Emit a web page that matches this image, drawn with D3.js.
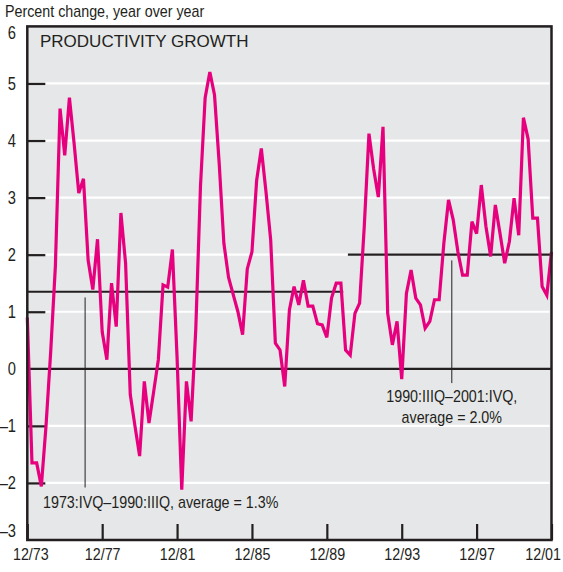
<!DOCTYPE html>
<html>
<head>
<meta charset="utf-8">
<script src="https://cdn.jsdelivr.net/npm/d3@7"></script>
<style>
body { margin: 0; background: #fff; }
text { font-family: "Liberation Sans", Arial, sans-serif; }
</style>
</head>
<body>
<div class="container"></div>
<script>
var	WIDTH = 563,
	HEIGHT = 572,
	LEFT = 27.3,
	RIGHT = 551.5,
	TOP = 26.4,
	BOTTOM = 540,
	INK = '#231f20',
	SQUEEZE = 0.84;

// productivity growth, percent change year over year, quarterly from 1973:IVQ to 2001:IVQ
var growth = [
	0.9, -1.65, -1.65, -2.06, -1.0, 0.3, 1.8, 4.56, 3.74, 4.75, 3.95, 3.08, 3.33,
	1.9, 1.39, 2.27, 0.65, 0.16, 1.5, 0.74, 2.73, 1.85, -0.45, -1.0, -1.53,
	-0.22, -0.95, -0.4, 0.16, 1.47, 1.43, 2.09, 0.2, -2.12, -0.22, -0.92, 0.7,
	3.2, 4.75, 5.2, 4.8, 3.6, 2.2, 1.6, 1.3, 1.0, 0.6, 1.75, 2.05,
	3.3, 3.86, 3.1, 2.26, 0.45, 0.33, -0.31, 1.03, 1.44, 1.12, 1.55, 1.1,
	1.1, 0.79, 0.77, 0.55, 1.24, 1.5, 1.5, 0.33, 0.24, 0.97, 1.15, 2.5,
	4.12, 3.5, 3.01, 4.24, 0.97, 0.42, 0.83, -0.18, 1.32, 1.73, 1.24, 1.12,
	0.71, 0.83, 1.21, 1.21, 2.2, 2.96, 2.61, 2.05, 1.64, 1.64, 2.58, 2.37,
	3.22, 2.49, 1.97, 2.87, 2.37, 1.85, 2.23, 2.99, 2.34, 4.4, 4.03, 2.64,
	2.64, 1.44, 1.29, 2.05
];

// averages over the two periods (quarter index from/to)
var avgFrom = [0, 68.5],
	avgTo = [67.5, 112],
	avgValue = [1.35, 2.0];

var xTickQuarters = [0, 16, 32, 48, 64, 80, 96, 112],
	xTickLabels = ['12/73', '12/77', '12/81', '12/85', '12/89', '12/93', '12/97', '12/01'],
	yTicks = [6, 5, 4, 3, 2, 1, 0, -1, -2, -3],
	gridValues = [5, 4, 3, 2, 1, -1, -2];

// squeeze regular text into a condensed look
function narrow(sel) {
	sel.each(function() {
		var w = this.getComputedTextLength();
		d3.select(this)
			.attr('textLength', w * SQUEEZE)
			.attr('lengthAdjust', 'spacingAndGlyphs');
	});
}

var svg = d3.select('.container').append('svg')
	.attr('width', WIDTH)
	.attr('height', HEIGHT);

var xScale = d3.scaleLinear().domain([0, 112]).range([LEFT, RIGHT]);
var yScale = d3.scaleLinear().domain([-3, 6]).range([BOTTOM, TOP]);

svg.append('rect')
	.attr('x', LEFT).attr('y', TOP)
	.attr('width', RIGHT - LEFT).attr('height', BOTTOM - TOP)
	.attr('fill', '#e6e7e8');

// white grid lines
svg.selectAll('.grid').data(gridValues).enter().append('line')
	.attr('x1', LEFT + 18).attr('x2', RIGHT - 2)
	.attr('y1', function(d) { return yScale(d) })
	.attr('y2', function(d) { return yScale(d) })
	.attr('stroke', '#fff').attr('stroke-width', 2.2);

// inner y ticks
var yInner = svg.append('g')
	.attr('transform', 'translate(' + LEFT + ',0)')
	.call(d3.axisRight(yScale).tickValues(gridValues).tickSize(18).tickFormat(''));
yInner.select('.domain').remove();
yInner.selectAll('line').attr('stroke', INK).attr('stroke-width', 2.2);

// y labels
var yLabels = svg.append('g')
	.attr('transform', 'translate(16,0)')
	.call(d3.axisLeft(yScale).tickValues(yTicks).tickSize(0).tickPadding(0)
		.tickFormat(function(d) { return d < 0 ? '\u2013' + (-d) : d }));
yLabels.select('.domain').remove();
yLabels.selectAll('text')
	.attr('font-size', 17.5).attr('fill', INK).attr('font-family', null)
	.attr('dy', function(d) { return d === 6 ? '0.7em' : d === -3 ? '-0.2em' : '0.32em' })
	.call(narrow);

// x ticks
var xInner = svg.append('g')
	.attr('transform', 'translate(0,' + BOTTOM + ')')
	.call(d3.axisTop(xScale).tickValues(xTickQuarters).tickSize(16).tickFormat(''));
xInner.select('.domain').remove();
xInner.selectAll('line').attr('stroke', INK).attr('stroke-width', 2.2);

var lastTick = xTickLabels.length - 1;
var xLabels = svg.append('g')
	.attr('transform', 'translate(0,' + BOTTOM + ')')
	.call(d3.axisBottom(xScale).tickValues(xTickQuarters).tickSize(0).tickPadding(8)
		.tickFormat(function(d, i) { return xTickLabels[i] }));
xLabels.select('.domain').remove();
xLabels.selectAll('text')
	.attr('font-size', 17).attr('fill', INK).attr('font-family', null)
	.attr('text-anchor', function(d, i) { return i === lastTick ? 'end' : 'middle' })
	.attr('dx', function(d, i) { return i === 0 ? 3 : i === lastTick ? 9 : 0 })
	.call(narrow);

// zero line
svg.append('line')
	.attr('x1', LEFT).attr('x2', RIGHT)
	.attr('y1', yScale(0)).attr('y2', yScale(0))
	.attr('stroke', INK).attr('stroke-width', 2.2);

// average lines
svg.selectAll('.avg').data(avgValue).enter().append('line')
	.attr('x1', function(d, i) { return xScale(avgFrom[i]) })
	.attr('x2', function(d, i) { return xScale(avgTo[i]) })
	.attr('y1', function(d) { return yScale(d) })
	.attr('y2', function(d) { return yScale(d) })
	.attr('stroke', INK).attr('stroke-width', 2.2);

// pointer lines for the notes
svg.append('line')
	.attr('x1', xScale(12.35)).attr('x2', xScale(12.35))
	.attr('y1', yScale(1.25)).attr('y2', yScale(-2.08))
	.attr('stroke', INK).attr('stroke-width', 1);
svg.append('line')
	.attr('x1', xScale(90.7)).attr('x2', xScale(90.7))
	.attr('y1', yScale(1.9)).attr('y2', yScale(-0.25))
	.attr('stroke', INK).attr('stroke-width', 1);

var line = d3.line()
	.x(function(d, i) { return xScale(i) })
	.y(function(d) { return yScale(d) });

svg.append('path')
	.datum(growth)
	.attr('d', line)
	.attr('fill', 'none')
	.attr('stroke', '#e6007e')
	.attr('stroke-width', 3.2)
	.attr('stroke-linejoin', 'miter');

// frame
svg.append('rect')
	.attr('x', LEFT).attr('y', TOP)
	.attr('width', RIGHT - LEFT).attr('height', BOTTOM - TOP)
	.attr('fill', 'none').attr('stroke', INK).attr('stroke-width', 2.5);

svg.append('text')
	.attr('x', 5).attr('y', 17)
	.attr('font-size', 17).attr('fill', INK)
	.text('Percent change, year over year')
	.call(narrow);

svg.append('text')
	.attr('x', 40).attr('y', 47)
	.attr('font-size', 17).attr('fill', INK)
	.text('PRODUCTIVITY GROWTH');

svg.append('text')
	.attr('x', 43).attr('y', 508)
	.attr('font-size', 17).attr('fill', INK)
	.text('1973:IVQ\u20131990:IIIQ, average = 1.3%')
	.call(narrow);

svg.append('text')
	.attr('x', xScale(90.7)).attr('y', 402)
	.attr('text-anchor', 'middle')
	.attr('font-size', 17).attr('fill', INK)
	.text('1990:IIIQ\u20132001:IVQ,')
	.call(narrow);

svg.append('text')
	.attr('x', xScale(90.7)).attr('y', 423)
	.attr('text-anchor', 'middle')
	.attr('font-size', 17).attr('fill', INK)
	.text('average = 2.0%')
	.call(narrow);
</script>
</body>
</html>
